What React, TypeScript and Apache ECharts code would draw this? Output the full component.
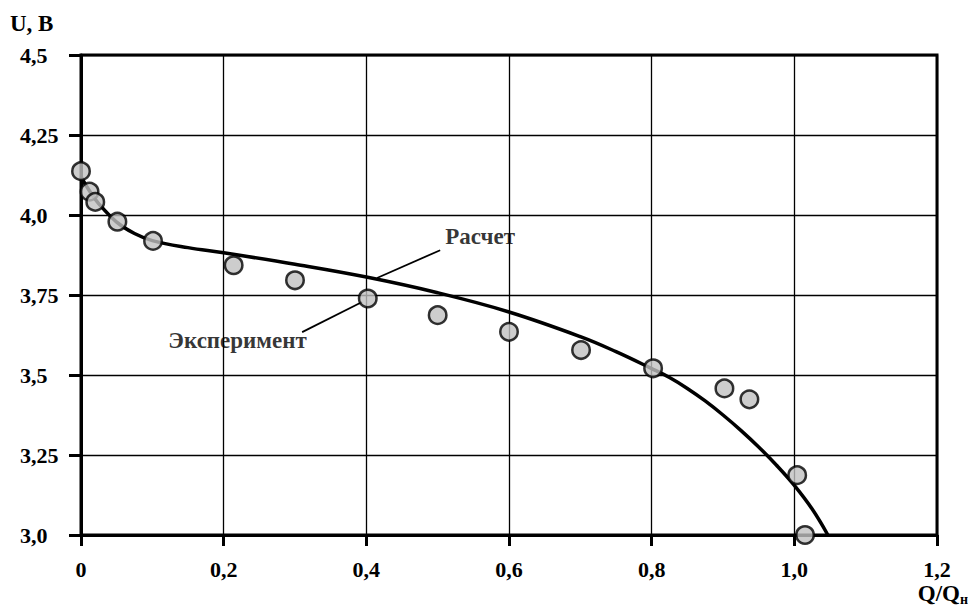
import React, { useEffect, useRef } from "react";
import * as echarts from "echarts";

const xTickLabels = ["0", "0,2", "0,4", "0,6", "0,8", "1,0", "1,2"];
const yTickLabels = ["3,0", "3,25", "3,5", "3,75", "4,0", "4,25", "4,5"];

// Experimental points (Q/Qн, U)
const expX = [0, 0.012, 0.02, 0.051, 0.101, 0.214, 0.3, 0.402, 0.5, 0.6, 0.701, 0.802, 0.902, 0.937, 1.004, 1.015];
const expY = [4.137, 4.073, 4.041, 3.979, 3.919, 3.843, 3.796, 3.739, 3.687, 3.635, 3.578, 3.521, 3.458, 3.424, 3.187, 3.0];

// Calculated curve
const calcX = [0, 0.012, 0.025, 0.05, 0.075, 0.1, 0.15, 0.2, 0.3, 0.4, 0.5, 0.6, 0.7, 0.75, 0.8, 0.825, 0.85, 0.875, 0.9, 0.925, 0.95, 0.975, 1.0, 1.025, 1.047];
const calcY = [4.12, 4.075, 4.035, 3.978, 3.942, 3.92, 3.898, 3.882, 3.846, 3.806, 3.757, 3.697, 3.62, 3.573, 3.52, 3.492, 3.458, 3.419, 3.375, 3.327, 3.275, 3.218, 3.155, 3.081, 3.0];

// Annotations (data coordinates)
const calcLabel = { text: "Расчет", x: 0.5596, y: 3.934 };
const calcLeader = [[0.5035, 3.89], [0.415, 3.803]];
const expLabel = { text: "Эксперимент", x: 0.2195, y: 3.609 };
const expLeader = [[0.31, 3.634], [0.394, 3.728]];

const FONT = "'Liberation Serif', 'Times New Roman', serif";

export default function App() {
  const ref = useRef<HTMLDivElement>(null);
  useEffect(() => {
    if (!ref.current) return;
    const chart = echarts.init(ref.current, null, { renderer: "svg" });
    const axisFont = { fontFamily: FONT, fontWeight: "bold" as const, fontSize: 22, color: "#000" };
    const annFont = { fontFamily: FONT, fontWeight: "bold" as const, fontSize: 23, color: "#000" };
    chart.setOption({
      animation: false,
      backgroundColor: "#fff",
      title: {
        text: "U, B",
        left: 10,
        top: 12,
        padding: 0,
        textStyle: { ...annFont },
      },
      graphic: [
        {
          type: "text",
          right: 0,
          top: 582,
          style: {
            text: "Q/Q{s|н}",
            font: `bold 23px ${FONT}`,
            fill: "#000",
            rich: { s: { fontFamily: FONT, fontWeight: "bold", fontSize: 14, fill: "#000", padding: [12, 0, 0, 0] } },
          } as any,
        },
      ],
      grid: {
        left: 81,
        right: 31,
        top: 55,
        bottom: 78,
        show: true,
        borderColor: "#000",
        borderWidth: 3,
        backgroundColor: "transparent",
      },
      xAxis: {
        type: "value",
        min: 0,
        max: 1.2,
        interval: 0.2,
        axisLine: { show: true, lineStyle: { color: "#000", width: 3 } },
        axisTick: { show: true, inside: false, length: 11, lineStyle: { color: "#000", width: 3 } },
        splitLine: { show: true, lineStyle: { color: "#000", width: 1.3 } },
        axisLabel: {
          ...axisFont,
          margin: 23,
          formatter: (v: number) => xTickLabels[Math.round(v / 0.2)] ?? "",
        },
      },
      yAxis: {
        type: "value",
        min: 3,
        max: 4.5,
        interval: 0.25,
        axisLine: { show: true, lineStyle: { color: "#000", width: 3 } },
        axisTick: { show: true, inside: false, length: 12, lineStyle: { color: "#000", width: 3 } },
        splitLine: { show: true, lineStyle: { color: "#000", width: 1.3 } },
        axisLabel: {
          ...axisFont,
          align: "left",
          margin: 61,
          formatter: (v: number) => yTickLabels[Math.round((v - 3) / 0.25)] ?? "",
        },
      },
      series: [
        {
          name: "Расчет",
          type: "line",
          smooth: 0.4,
          symbol: "none",
          lineStyle: { color: "#000", width: 3.5 },
          data: calcX.map((x, i) => [x, calcY[i]]),
          z: 2,
        },
        {
          name: "leader1",
          type: "line",
          symbol: "none",
          lineStyle: { color: "#000", width: 1.8 },
          data: calcLeader,
          z: 2,
        },
        {
          name: "leader2",
          type: "line",
          symbol: "none",
          lineStyle: { color: "#000", width: 1.8 },
          data: expLeader,
          z: 2,
        },
        {
          name: "Эксперимент",
          type: "scatter",
          symbol: "circle",
          symbolSize: 17.5,
          itemStyle: { color: "#c0c0c0", borderColor: "#000", borderWidth: 2.5 },
          data: expX.map((x, i) => [x, expY[i]]),
          z: 3,
        },
        {
          name: "labels",
          type: "scatter",
          symbolSize: 0,
          silent: true,
          data: [
            { value: [calcLabel.x, calcLabel.y], name: calcLabel.text },
            { value: [expLabel.x, expLabel.y], name: expLabel.text },
          ],
          label: {
            show: true,
            position: "inside",
            formatter: (p: any) => p.name,
            ...annFont,
          },
          z: 4,
        },
      ],
    });
    return () => chart.dispose();
  }, []);
  return <div ref={ref} style={{ width: 968, height: 613, position: "absolute", left: 0, top: 0 }} />;
}
